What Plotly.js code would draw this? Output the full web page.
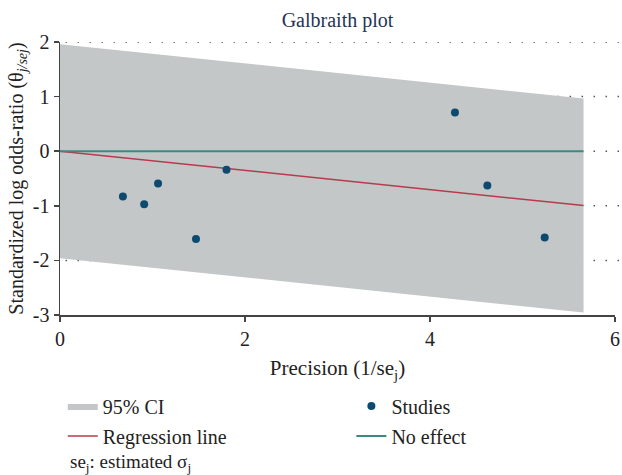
<!DOCTYPE html>
<html>
<head>
<meta charset="utf-8">
<script src="https://cdn.plot.ly/plotly-3.0.1.min.js"></script>
<style>
  html, body { margin: 0; padding: 0; background: #fff; }
  #chart { width: 622px; height: 475px; }
</style>
</head>
<body>
<div id="chart"></div>
<script>
// Individual studies: precision (1/se_j) and standardized log odds-ratio
const studyPrecision = [0.68, 0.91, 1.06, 1.47, 1.80, 4.27, 4.62, 5.24];
const studyStdEffect = [-0.83, -0.97, -0.59, -1.61, -0.34, 0.71, -0.63, -1.58];

// Regression through the origin and its 95% band
const precisionSpan = [0, 5.66];
const regressionSlope = -0.176;
const ciHalfWidth = 1.96;

// Axis ticks
const xTicks = [0, 2, 4, 6];
const yTicks = [-3, -2, -1, 0, 1, 2];

const serif = '"Liberation Serif", "DejaVu Serif", serif';

const regY = precisionSpan.map(x => regressionSlope * x);
const ciX = [precisionSpan[0], precisionSpan[1], precisionSpan[1], precisionSpan[0], precisionSpan[0]];
const ciY = [regY[0] + ciHalfWidth, regY[1] + ciHalfWidth, regY[1] - ciHalfWidth, regY[0] - ciHalfWidth, regY[0] + ciHalfWidth];

const traces = [
  {
    name: '95% CI', x: ciX, y: ciY, mode: 'lines', fill: 'toself',
    fillcolor: '#c3c7c8', line: { width: 0, color: '#c3c7c8' },
    legend: 'legend', legendgroup: 'a', legendrank: 1, hoverinfo: 'skip'
  },
  {
    name: 'Regression line', x: precisionSpan, y: regY, mode: 'lines',
    line: { color: '#b83a4e', width: 1.5 },
    legend: 'legend', legendgroup: 'b', legendrank: 2
  },
  {
    name: 'No effect', x: precisionSpan, y: precisionSpan.map(() => 0), mode: 'lines',
    line: { color: '#3a8a82', width: 2 },
    legend: 'legend2', legendgroup: 'd', legendrank: 4
  },
  {
    name: 'Studies', x: studyPrecision, y: studyStdEffect, mode: 'markers',
    marker: { color: '#0d4a70', size: 8 },
    legend: 'legend2', legendgroup: 'c', legendrank: 3
  }
];

// Dotted reference lines at the labelled levels, running past the axis end
const gridShapes = yTicks.filter(v => v > yTicks[0]).map(v => ({
  type: 'line', xref: 'paper', yref: 'y', x0: 0.01, x1: 1.013, y0: v, y1: v,
  layer: 'below', line: { color: '#555', width: 1.5, dash: '1.5px,10.5px' }
}));

const legendCommon = {
  orientation: 'v', bgcolor: 'rgba(0,0,0,0)', borderwidth: 0,
  font: { family: serif, size: 20, color: '#222' },
  xanchor: 'left', yanchor: 'top', yref: 'paper',
  traceorder: 'grouped', tracegroupgap: 1, itemwidth: 30
};

const layout = {
  width: 622, height: 475,
  margin: { l: 60, r: 7, t: 42, b: 160 },
  paper_bgcolor: '#fff', plot_bgcolor: 'rgba(0,0,0,0)',
  font: { family: serif, color: '#222' },
  title: {
    text: 'Galbraith plot', font: { family: serif, size: 20, color: '#1f3556' },
    x: 0.5, xref: 'paper', xanchor: 'center', y: 1 - 20 / 475, yref: 'container', yanchor: 'middle'
  },
  xaxis: {
    range: [0, 6], tickvals: xTicks, ticktext: xTicks.map(String),
    showgrid: false, zeroline: false, showline: true, linecolor: '#444', linewidth: 1.5,
    ticks: 'outside', ticklen: 5, tickwidth: 1.5, tickcolor: '#444',
    tickfont: { family: serif, size: 20, color: '#222' },
    title: { text: 'Precision (1/se<sub>j</sub>)', font: { family: serif, size: 21, color: '#222' }, standoff: 12 }
  },
  yaxis: {
    range: [-3, 2], tickvals: yTicks, ticktext: yTicks.map(String),
    showgrid: false, zeroline: false, showline: true, linecolor: '#444', linewidth: 1.5,
    ticks: 'outside', ticklen: 5, tickwidth: 1.5, tickcolor: '#444',
    tickfont: { family: serif, size: 20, color: '#222' },
    title: { text: 'Standardized log odds-ratio (θ<sub><i>j/sej</i></sub>)', font: { family: serif, size: 20, color: '#222' }, standoff: 4 }
  },
  showlegend: true,
  legend: Object.assign({}, legendCommon, { x: 0.005, y: -0.262 }),
  legend2: Object.assign({}, legendCommon, { x: 0.525, y: -0.262 }),
  shapes: gridShapes,
  annotations: [{
    text: 'se<sub>j</sub>: estimated σ<sub>j</sub>', xref: 'paper', yref: 'paper',
    x: 0.014, y: (315 - 463) / 273, xanchor: 'left', yanchor: 'middle', showarrow: false,
    font: { family: serif, size: 19, color: '#222' }
  }]
};

Plotly.newPlot('chart', traces, layout, { displayModeBar: false, staticPlot: true });
</script>
</body>
</html>
